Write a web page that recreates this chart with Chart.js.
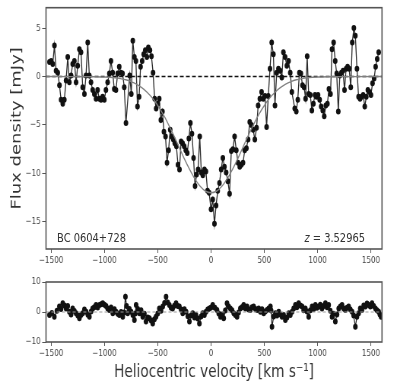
<!DOCTYPE html>
<html>
<head>
<meta charset="utf-8">
<script src="https://cdn.jsdelivr.net/npm/chart.js@4.4.1/dist/chart.umd.min.js"></script>
<style>
  html, body { margin: 0; padding: 0; background: #fff; }
  body { width: 400px; height: 392px; overflow: hidden; position: relative; }
  /* the original figure is squeezed horizontally, so draw wide and squash */
  #squeeze { position: absolute; left: 0; top: 0; width: 526px; height: 392px;
    transform: scaleX(0.7605); transform-origin: 0 0;
    font-family: 'DejaVu Sans', sans-serif; color: #333; }
  #main { position: absolute; left: 0; top: 0; }
  #resid { position: absolute; left: 0; top: 270px; }
  .note { position: absolute; font-size: 13px; line-height: 13px; white-space: nowrap; }
</style>
</head>
<body>
<div id="squeeze">
  <canvas id="main" width="526" height="270"></canvas>
  <canvas id="resid" width="526" height="122"></canvas>
  <div class="note" style="left:75px; top:231px">BC 0604+728</div>
  <div class="note" style="right:46px; top:231px"><i>z</i> = 3.52965</div>
</div>
<script>
// axis limits
const xMin = -1548
const xMax = 1604

// spectrum (km/s, mJy)
const velocity = [
  -1516, -1500, -1485, -1469, -1454, -1438, -1422, -1407, -1391, -1376,
  -1360, -1344, -1329, -1313, -1298, -1282, -1266, -1251, -1235, -1220,
  -1204, -1188, -1173, -1157, -1142, -1126, -1110, -1095, -1079, -1064,
  -1048, -1032, -1017, -1001, -986, -970, -954, -939, -923, -908,
  -892, -876, -861, -845, -830, -814, -798,
  -763, -748, -734, -719, -705, -690, -675, -661, -646, -632,
  -617, -602, -588, -573, -559, -544, -529, -515, -500, -486,
  -471, -456, -442, -427, -413, -398, -383, -369, -354, -340,
  -325, -310, -296, -281, -267, -252, -237, -223, -208, -194,
  -179, -164, -150, -135, -121, -106, -91, -77, -62, -48,
  -33, -18,
  0, 16, 32, 47, 63, 79, 95, 111, 126, 142,
  158, 174, 190, 205, 221, 237, 253, 269, 284, 300,
  316, 332, 348, 363, 379, 395, 411, 427, 442, 458,
  474, 490, 506, 521, 537, 553, 569, 585, 600, 616,
  632, 648, 664, 679, 695, 711, 727, 743, 758,
  785, 800, 814, 829, 843, 858, 873, 887, 902, 916,
  931, 946, 960, 975, 989, 1004, 1019, 1033, 1048, 1062,
  1077, 1092, 1106, 1121, 1135, 1150, 1165, 1179, 1194, 1208,
  1223, 1238, 1252, 1267, 1281, 1296, 1311, 1325, 1340, 1354,
  1369, 1384, 1398, 1413, 1427, 1442, 1457, 1471, 1486, 1500,
  1515, 1530, 1544, 1559, 1573
]
const flux = [
  1.5, 1.6, 1.3, 3.2, 0.6, 0.4, -0.9, -2.4, -2.8, -2.4,
  -0.4, 2.0, -0.6, 0.1, 1.3, 1.6, -0.6, 1.1, 2.8, 2.5,
  -1.1, -1.8, 0.1, 3.5, 0.1, -0.6, -1.4, -1.8, -2.3, -1.4,
  -2.3, -2.4, -2.1, -2.4, -1.4, -0.6, 0.3, 1.6, 0.4, -1.3,
  -1.4, 0.3, 1.0, 0.4, 0.3, -1.1, -4.8,
  0.1, -1.8, 3.7, 2.0, 1.6, -3.1, -2.1, 1.0, 1.6, 2.3,
  2.7, 2.0, 3.0, 2.7, 2.1, 0.4, -2.3, -3.3, -2.8, -2.3,
  -4.5, -3.6, -5.7, -6.2, -8.9, -7.6, -5.5, -6.2, -6.5, -6.9,
  -7.2, -9.1, -9.6, -6.7, -6.9, -7.2, -7.6, -7.9, -6.4, -4.8,
  -5.9, -8.4, -11.3, -10.1, -9.6, -6.2, -9.9, -10.2, -9.6, -9.8,
  -11.8, -12.0,
  -13.7, -12.7, -15.2, -13.3, -11.8, -11.0, -9.6, -8.4, -9.3, -9.9,
  -10.8, -12.1, -7.7, -7.5, -6.2, -7.6, -8.9, -9.3, -9.1, -8.9,
  -7.6, -7.4, -6.5, -4.7, -5.0, -5.5, -6.5, -5.3, -3.0, -2.3,
  -1.6, -2.3, -2.0, -5.2, -2.0, 0.8, 3.5, 2.3, -3.0, 0.4,
  0.8, 0.6, -0.1, 2.5, 2.0, 1.1, 1.6, 0.4, -1.6,
  -3.3, -3.6, -2.4, 0.4, 0.3, -0.9, -1.1, -2.3, 2.1, -1.8,
  -1.9, -3.5, -2.8, -1.9, -2.1, -1.9, -2.4, -3.1, -3.5, -4.1,
  -3.0, -2.8, -1.3, -1.8, 2.8, 3.5, 1.6, 0.3, -3.6, 0.1,
  0.4, 0.6, -1.4, 0.8, 1.0, 0.8, -1.1, 3.5, 5.0, 4.2,
  0.8, -2.1, -2.3, -2.1, -1.9, -3.1, -2.1, -1.4, -1.6, -1.9,
  -0.7, -0.2, 1.0, 1.8, 2.5
]

// gaussian fit
const fitVelocity = [
  -1548, -1100, -1000, -950, -900, -850, -800, -750, -700, -650,
  -600, -550, -500, -450, -400, -350, -300, -250, -200, -150,
  -100, -50, 0, 50, 100, 150, 200, 250, 300, 350,
  400, 450, 500, 550, 600, 650, 700, 750, 800, 850,
  900, 950, 1000, 1100, 1604
]
const fitFlux = [
  0, -0.02, -0.05, -0.08, -0.13, -0.22, -0.34, -0.53, -0.79, -1.15,
  -1.62, -2.23, -2.99, -3.89, -4.93, -6.07, -7.28, -8.50, -9.61, -10.59,
  -11.35, -11.84, -12.0, -11.84, -11.35, -10.59, -9.61, -8.50, -7.28, -6.07,
  -4.93, -3.89, -2.99, -2.23, -1.62, -1.15, -0.79, -0.53, -0.34, -0.22,
  -0.13, -0.08, -0.05, -0.02, 0
]

// residuals (lower panel)
const resVelocity = [
  -1516, -1493, -1470, -1446, -1423, -1407, -1391, -1375, -1360, -1344,
  -1329, -1313, -1298, -1282, -1266, -1250, -1235, -1220, -1204, -1188,
  -1172, -1156, -1141, -1125, -1110, -1095, -1079, -1063, -1047, -1031,
  -1016, -1000, -985, -970, -954, -938, -922, -906, -891, -875,
  -860, -844, -828, -815, -803, -792, -782, -766, -750, -734,
  -719, -711, -703, -688, -672, -656, -641, -625, -610, -594,
  -578, -562, -547, -531, -516, -500, -485, -469, -453, -437,
  -422, -406, -391, -375, -360, -344, -328, -312, -297, -281,
  -266, -250, -234, -218, -203, -187, -172, -156, -141, -125,
  -109, -93, -78, -62, -47, -31, -16, 0, 16, 36,
  56, 72, 88, 103, 119, 134, 150, 165, 181, 197,
  213, 228, 244, 259, 275, 290, 306, 322, 338, 353,
  369, 384, 400, 416, 432, 447, 463, 478, 494, 509,
  525, 541, 557, 564, 572, 588, 604, 619, 635, 650,
  666, 681, 697, 713, 729, 744, 760, 775, 791, 806,
  822, 838, 854, 869, 885, 900, 916, 932, 948, 963,
  979, 994, 1010, 1025, 1041, 1057, 1073, 1088, 1104, 1119,
  1135, 1150, 1166, 1182, 1198, 1213, 1229, 1244, 1260, 1275,
  1291, 1307, 1323, 1338, 1354, 1369, 1385, 1400, 1416, 1432,
  1448, 1463, 1479, 1494, 1510, 1526, 1542, 1557, 1573, 1584,
  1595
]
const residual = [
  -1.0, -0.3, -1.6, 0.4, 1.8, 1.0, 2.9, 2.2, 1.2, 2.0,
  0.1, -0.8, 1.2, 0.3, -0.4, -1.2, -2.1, -1.0, -0.4, 0.8,
  0.1, -0.9, -1.6, 0.2, 1.2, 1.6, 2.3, 1.5, 2.3, 2.6,
  2.9, 2.4, 2.0, 1.2, 0.7, 1.5, -0.4, 0.9, 0.1, -0.6,
  -1.0, 0.0, -1.6, -0.2, 5.1, 2.0, -0.4, 1.0, 0.1, -1.0,
  -2.7, -0.5, 2.3, 1.0, -0.4, 0.6, -1.6, -0.6, -3.2, -1.8,
  -2.1, -2.8, -3.8, -2.4, -1.6, -0.5, 1.2, 0.4, 1.8, 3.0,
  5.1, 3.2, 2.3, 1.4, 1.2, 2.1, 2.9, 2.0, 1.8, 0.8,
  -0.4, 0.9, 0.1, -1.4, -3.2, -1.2, -0.4, -1.8, -1.0, -2.2,
  -3.8, -1.5, -0.4, -1.0, 0.1, 0.8, 1.2, 1.5, 2.3, 1.4,
  0.7, -0.5, -1.6, -0.8, -2.1, 0.5, 2.9, 1.8, 1.2, 0.6,
  -0.4, -1.0, -1.6, -0.2, 1.2, 1.6, 2.3, 1.2, 1.8, 0.8,
  0.7, 1.6, 1.8, 1.0, 0.7, 1.2, 0.1, 0.9, -0.4, 0.2,
  0.7, 1.2, 1.8, 0.5, -4.9, -1.5, -0.4, -1.2, 0.1, -0.8,
  -1.6, -1.0, -2.7, -1.8, -0.4, -1.0, 0.1, 1.2, 2.3, 1.6,
  2.9, 2.2, 1.8, 0.6, 1.2, 0.2, -1.6, 0.6, 1.8, 1.0,
  2.3, 1.4, 1.8, 2.4, 1.2, 2.0, 2.9, 1.6, 2.3, 0.4,
  -1.6, -0.6, -3.2, -0.8, 1.2, 1.8, 2.3, 1.2, 0.7, 1.4,
  1.8, 0.8, 0.1, -1.2, -4.9, -1.6, -0.4, 1.2, 0.7, 2.2,
  1.8, 2.8, 2.3, 1.8, 2.9, 2.0, 1.2, 0.6, 0.1, -0.8,
  -1.6
]

const xTicks = [-1500, -1000, -500, 0, 500, 1000, 1500]

const pairs = ( xs, ys ) => xs.map( ( x, i ) => ( { x, y: ys[i] } ) )
const minus = ( v ) => String( v ).replace( '-', '\u2212' )

const fontFamily = "'DejaVu Sans', sans-serif"
const tickFont = { family: fontFamily, size: 9.5 }
const edge = '#555'

// box around the plot area, like matplotlib spines
const frame = {
  id: 'frame',
  afterDatasetsDraw( chart ) {
    const { ctx, chartArea: a } = chart
    ctx.save()
    ctx.strokeStyle = edge
    ctx.lineWidth = 1.6
    ctx.strokeRect( a.left, a.top, a.right - a.left, a.bottom - a.top )
    ctx.restore()
  }
}

const makeOptions = ( yMin, yMax, yStep, padding, xHeight, yTitle, xTitle ) => ( {
  responsive: false,
  animation: false,
  layout: { padding },
  plugins: { legend: { display: false }, tooltip: { enabled: false } },
  scales: {
    x: {
      type: 'linear',
      min: xMin,
      max: xMax,
      afterBuildTicks: ( s ) => { s.ticks = xTicks.map( ( v ) => ( { value: v } ) ) },
      afterFit: ( s ) => { s.height = xHeight },
      grid: { drawOnChartArea: false, tickLength: 4, color: edge },
      border: { display: false },
      ticks: { font: tickFont, color: '#444', padding: 2, maxRotation: 0, callback: minus },
      title: xTitle
        ? { display: true, text: xTitle, color: '#333', font: { family: fontFamily, size: 18 }, padding: { top: 0, bottom: 9 } }
        : { display: false }
    },
    y: {
      min: yMin,
      max: yMax,
      afterFit: ( s ) => { s.width = 60.5 },
      grid: { drawOnChartArea: false, tickLength: 5, color: edge },
      border: { display: false },
      ticks: { stepSize: yStep, includeBounds: false, font: tickFont, color: '#444', padding: 2, callback: minus },
      title: yTitle
        ? { display: true, text: yTitle, color: '#333', font: { family: fontFamily, size: 18 }, padding: { top: 12, bottom: 0 } }
        : { display: false }
    }
  }
} )

new Chart( document.getElementById( 'main' ), {
  type: 'line',
  data: {
    datasets: [
      {
        data: pairs( fitVelocity, fitFlux ),
        borderColor: '#808080',
        borderWidth: 1.4,
        pointRadius: 0,
        tension: 0.3
      },
      {
        data: [{ x: xMin, y: 0 }, { x: xMax, y: 0 }],
        borderColor: '#111',
        borderWidth: 1.4,
        borderDash: [5, 3],
        pointRadius: 0
      },
      {
        data: pairs( velocity, flux ),
        borderColor: '#2a2a2a',
        borderWidth: 1.3,
        pointRadius: 3,
        pointBackgroundColor: '#111',
        pointBorderColor: '#111',
        pointBorderWidth: 0
      }
    ]
  },
  options: makeOptions( -17.8, 7.1, 5, { left: 0, right: 23.7, top: 7, bottom: 0 }, 21, 'Flux density [mJy]', null ),
  plugins: [frame]
} )

new Chart( document.getElementById( 'resid' ), {
  type: 'line',
  data: {
    datasets: [
      {
        data: [{ x: xMin, y: 0 }, { x: xMax, y: 0 }],
        borderColor: '#999',
        borderWidth: 1,
        borderDash: [4, 3],
        pointRadius: 0
      },
      {
        data: pairs( resVelocity, residual ),
        borderColor: '#222',
        borderWidth: 1.2,
        pointRadius: 3,
        pointBackgroundColor: '#111',
        pointBorderColor: '#111',
        pointBorderWidth: 0
      }
    ]
  },
  options: makeOptions( -10, 10, 10, { left: 0, right: 23.7, top: 12, bottom: 0 }, 50, null, 'Heliocentric velocity [km s\u207B\u00B9]' ),
  plugins: [frame]
} )
</script>
</body>
</html>
